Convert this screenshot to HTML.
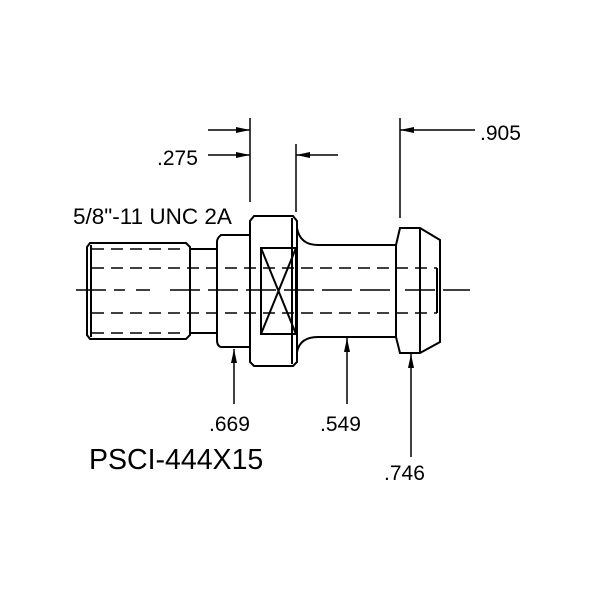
<!DOCTYPE html><html><head><style>body{margin:0;background:#fff}svg{display:block}</style></head><body>
<svg width="600" height="600" viewBox="0 0 600 600" xmlns="http://www.w3.org/2000/svg" font-family="Liberation Sans, sans-serif">
<defs><marker id="b" viewBox="0 0 14 6" refX="14" refY="3" markerWidth="14" markerHeight="6" markerUnits="userSpaceOnUse" orient="auto"><path d="M0,0L14,3L0,6z" fill="#000"/></marker></defs>
<g fill="none" stroke="#000" stroke-width="2">
<path d="M90,243H186L190,247V335L186,339H90L87,335V247Z"/>
<line x1="91" y1="245" x2="91" y2="337"/>
<path d="M190,249H217M190,333H217"/>
<path d="M250,235H221Q217,238 217,242V340Q217,346 221,347H250"/>
<path d="M254,216H293L297,221V362L293,366H254L250,362V221Z"/>
<line x1="292" y1="218" x2="292" y2="364"/>
<rect x="261" y="248" width="35" height="86"/>
<path d="M261,248L296,334M296,248L261,334"/>
<path d="M297,228Q300,245 318,245H396M297,352Q300,337 318,337H396"/>
<path d="M396,245L400,228H420L440,240V342L420,353H400L396,337Z"/>
<line x1="420" y1="228" x2="420" y2="353"/>
<line x1="437" y1="268" x2="437" y2="313"/>
<g stroke-width="1.6" stroke-dasharray="12,7">
<line x1="92" y1="249" x2="186" y2="249"/><line x1="92" y1="333" x2="186" y2="333"/>
<line x1="92" y1="268" x2="437" y2="268"/><line x1="92" y1="313" x2="437" y2="313"/>
</g>
<path d="M76,290H125M136,290H150M170,290H390M405,290H470" stroke-width="1.6" stroke-dasharray="30,8"/>
<g stroke-width="1.5">
<line x1="250" y1="118" x2="250" y2="202"/>
<line x1="296" y1="144" x2="296" y2="212"/>
<line x1="400" y1="118" x2="400" y2="218"/>
<line x1="208" y1="130" x2="250" y2="130" marker-end="url(#b)"/>
<line x1="208" y1="155" x2="250" y2="155" marker-end="url(#b)"/>
<line x1="338" y1="155" x2="296" y2="155" marker-end="url(#b)"/>
<line x1="475" y1="130" x2="400" y2="130" marker-end="url(#b)"/>
<line x1="234" y1="404" x2="234" y2="349" marker-end="url(#b)"/>
<line x1="347" y1="404" x2="347" y2="338" marker-end="url(#b)"/>
<line x1="411" y1="457" x2="411" y2="354" marker-end="url(#b)"/>
</g>
</g>
<g font-size="21" fill="#000">
<text x="157" y="165">.275</text>
<text x="480" y="140">.905</text>
<text x="73" y="224" font-size="22.5">5/8"-11 UNC 2A</text>
<text x="209" y="431">.669</text>
<text x="320" y="431">.549</text>
<text x="384" y="480">.746</text>
<text x="89" y="469" font-size="28.5">PSCI-444X15</text>
</g>
</svg></body></html>
